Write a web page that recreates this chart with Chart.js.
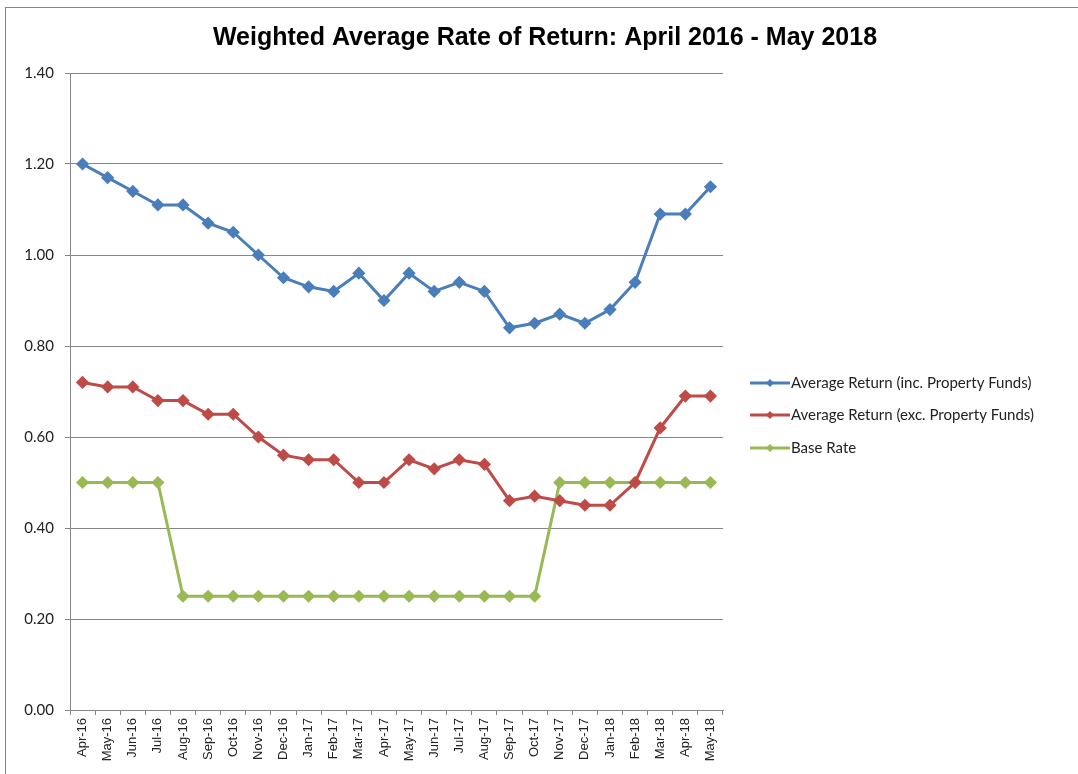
<!DOCTYPE html>
<html>
<head>
<meta charset="utf-8">
<script src="https://cdn.jsdelivr.net/npm/chart.js@4/dist/chart.umd.min.js"></script>
<style>
  html, body { margin: 0; padding: 0; background: #fff; }
  #wrap { width: 1078px; height: 774px; }
</style>
</head>
<body>
<div id="wrap"><canvas id="chartReturn"></canvas></div>
<script>
'use strict';

const TITLE = 'Weighted Average Rate of Return: April 2016 - May 2018';

const MONTHS = ['Apr-16', 'May-16', 'Jun-16', 'Jul-16', 'Aug-16', 'Sep-16', 'Oct-16', 'Nov-16', 'Dec-16',
    'Jan-17', 'Feb-17', 'Mar-17', 'Apr-17', 'May-17', 'Jun-17', 'Jul-17', 'Aug-17', 'Sep-17', 'Oct-17',
    'Nov-17', 'Dec-17', 'Jan-18', 'Feb-18', 'Mar-18', 'Apr-18', 'May-18'];

const incProperty = [1.20, 1.17, 1.14, 1.11, 1.11, 1.07, 1.05, 1.00, 0.95, 0.93, 0.92, 0.96, 0.90,
    0.96, 0.92, 0.94, 0.92, 0.84, 0.85, 0.87, 0.85, 0.88, 0.94, 1.09, 1.09, 1.15];

const excProperty = [0.72, 0.71, 0.71, 0.68, 0.68, 0.65, 0.65, 0.60, 0.56, 0.55, 0.55, 0.50, 0.50,
    0.55, 0.53, 0.55, 0.54, 0.46, 0.47, 0.46, 0.45, 0.45, 0.50, 0.62, 0.69, 0.69];

const baseRate = [0.50, 0.50, 0.50, 0.50, 0.25, 0.25, 0.25, 0.25, 0.25, 0.25, 0.25, 0.25, 0.25,
    0.25, 0.25, 0.25, 0.25, 0.25, 0.25, 0.50, 0.50, 0.50, 0.50, 0.50, 0.50, 0.50];

const SERIES_NAMES = ['Average Return (inc. Property Funds)', 'Average Return (exc. Property Funds)', 'Base Rate'];
const SERIES_COLORS = ['#4a7ebb', '#be4b48', '#98b954'];

function makeSet(label, values, color) {
    return {
        label: label,
        data: values,
        borderColor: color,
        backgroundColor: color,
        borderWidth: 3,
        pointStyle: 'rectRot',
        pointRadius: 4.5,
        pointHoverRadius: 4.5,
        tension: 0
    };
}

// frame, white background and title
const framePlugin = {
    id: 'frame',
    beforeDraw(chart) {
        const ctx = chart.ctx;
        ctx.save();
        ctx.fillStyle = '#fff';
        ctx.fillRect(0, 0, chart.width, chart.height);
        ctx.strokeStyle = '#868686';
        ctx.lineWidth = 1;
        ctx.strokeRect(5.5, 7.5, chart.width + 20, chart.height + 20);

        ctx.fillStyle = '#000';
        ctx.font = 'bold 25px "Liberation Sans"';
        ctx.textAlign = 'center';
        ctx.textBaseline = 'alphabetic';
        ctx.fillText(TITLE, 545, 45);
        ctx.restore();
    }
};

// Excel style legend: line with diamond marker
const legendPlugin = {
    id: 'sideLegend',
    afterDraw(chart) {
        const ctx = chart.ctx;
        const x0 = chart.chartArea.right + 27;
        const rows = [383, 415, 448];
        ctx.save();
        chart.data.datasets.forEach(function(ds, i) {
            const y = rows[i];
            ctx.strokeStyle = ds.borderColor;
            ctx.lineWidth = 3;
            ctx.beginPath();
            ctx.moveTo(x0, y);
            ctx.lineTo(x0 + 40, y);
            ctx.stroke();
            ctx.fillStyle = ds.borderColor;
            ctx.beginPath();
            ctx.moveTo(x0 + 20, y - 4);
            ctx.lineTo(x0 + 24, y);
            ctx.lineTo(x0 + 20, y + 4);
            ctx.lineTo(x0 + 16, y);
            ctx.closePath();
            ctx.fill();
            ctx.fillStyle = '#222';
            ctx.font = '15px Lato';
            ctx.textBaseline = 'middle';
            ctx.fillText(ds.label, x0 + 41, y);
        });
        ctx.restore();
    }
};

const data = {
    labels: MONTHS,
    datasets: [
        makeSet(SERIES_NAMES[0], incProperty, SERIES_COLORS[0]),
        makeSet(SERIES_NAMES[1], excProperty, SERIES_COLORS[1]),
        makeSet(SERIES_NAMES[2], baseRate, SERIES_COLORS[2])
    ]
};

const config = {
    type: 'line',
    data,
    plugins: [framePlugin, legendPlugin],
    options: {
        responsive: false,
        animation: false,
        layout: { padding: { top: 73, right: 355, bottom: 0, left: 0 } },
        plugins: {
            legend: { display: false },
            tooltip: { enabled: false },
            title: { display: false }
        },
        scales: {
            x: {
                offset: true,
                afterFit: function(scale) { scale.height = 64; },
                grid: {
                    offset: true,
                    drawOnChartArea: false,
                    tickLength: 5,
                    color: '#868686'
                },
                border: { color: '#868686' },
                ticks: {
                    minRotation: 90,
                    maxRotation: 90,
                    autoSkip: false,
                    padding: 3,
                    color: '#222',
                    font: { family: 'Liberation Sans', size: 13 }
                }
            },
            y: {
                min: 0,
                max: 1.4,
                afterFit: function(scale) { scale.width = 70; },
                grid: { color: '#868686', tickLength: 5 },
                border: { color: '#868686' },
                ticks: {
                    stepSize: 0.2,
                    padding: 11,
                    color: '#222',
                    font: { family: 'Lato', size: 15 },
                    callback: function(v) { return v.toFixed(2); }
                }
            }
        }
    }
};

const canvas = document.getElementById('chartReturn');
canvas.width = 1078;
canvas.height = 774;
var chartReturn = new Chart(canvas, config);
</script>
</body>
</html>
